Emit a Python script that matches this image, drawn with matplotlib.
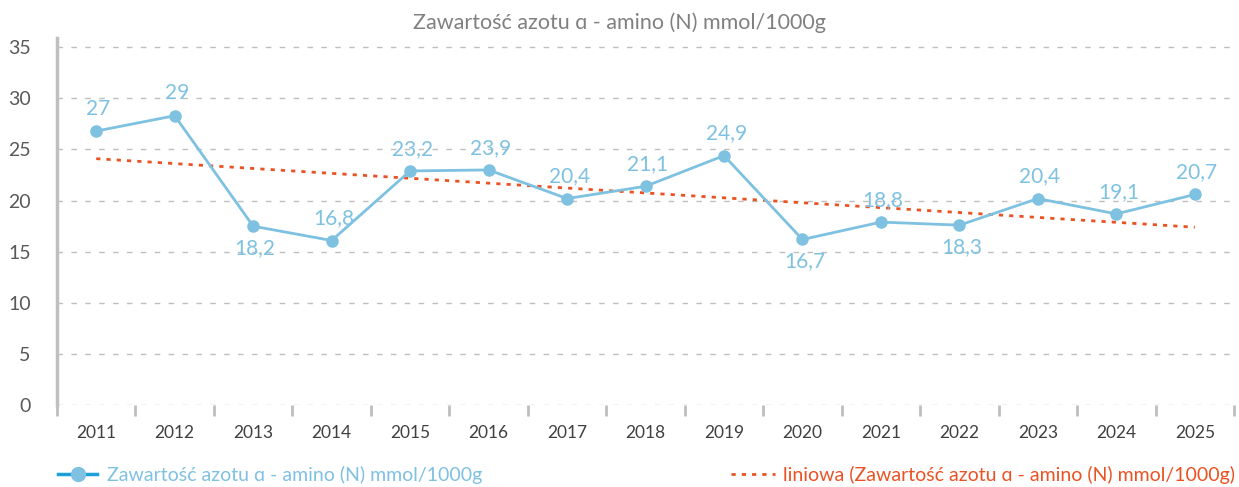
import numpy as np
import matplotlib.pyplot as plt
from matplotlib.lines import Line2D

plt.rcParams['font.family'] = ['Lato', 'DejaVu Sans']

years = ['2011', '2012', '2013', '2014', '2015', '2016', '2017', '2018',
         '2019', '2020', '2021', '2022', '2023', '2024', '2025']
# point heights as drawn in the reference
values = [26.8, 28.3, 17.5, 16.1, 22.9, 23.0, 20.2, 21.4,
          24.4, 16.2, 17.9, 17.6, 20.2, 18.7, 20.6]
# data labels as printed in the reference
labels = ['27', '29', '18,2', '16,8', '23,2', '23,9', '20,4', '21,1',
          '24,9', '16,7', '18,8', '18,3', '20,4', '19,1', '20,7']
below = ['2013', '2020', '2022']
# linear trend line, start and end values
trend_years = ['2011', '2025']
trend_values = [24.1, 17.4]

title = 'Zawartość azotu ɑ - amino (N) mmol/1000g'
series_name = 'Zawartość azotu ɑ - amino (N) mmol/1000g'
trend_name = 'liniowa (Zawartość azotu ɑ - amino (N) mmol/1000g)'

blue = '#7EC1E1'
orange = '#EB5223'
grid_c = '#BFBFBF'

fig = plt.figure(figsize=(12.39, 4.87), dpi=100)
ax = fig.add_axes([0.046, 0.168, 0.95, 0.754])

x = np.arange(len(years))
ax.plot(x, values, color=blue, lw=2, marker='o', ms=8, zorder=3)

tx = [years.index(y) for y in trend_years]
ax.plot(tx, trend_values, color=orange, lw=2, ls=(0, (1.5, 2.2)), zorder=2)

for xi, v, lab, yr in zip(x, values, labels, years):
    dy = -15.5 if yr in below else 16
    ax.annotate(lab, (xi, v), xytext=(1.5, dy), textcoords='offset points',
                ha='center', va='center', color=blue, fontsize=15)

ax.set_xlim(-0.5, len(years) - 0.5)
ax.set_ylim(0, 35.9)
ax.set_yticks(range(0, 36, 5))
ax.set_xticks(x)
ax.set_xticklabels(years)
ax.set_xticks(np.arange(-0.5, len(years), 1), minor=True)

ax.tick_params(axis='y', length=0, labelsize=14, labelcolor='#595959', pad=19)
ax.tick_params(axis='x', which='major', length=0, labelsize=12.5,
               labelcolor='#404040', pad=14)
ax.tick_params(axis='x', which='minor', length=8, width=2, color=grid_c)

ax.grid(axis='y', color=grid_c, ls=(0, (4, 6)), lw=1)
for s in ['top', 'right', 'bottom']:
    ax.spines[s].set_visible(False)
ax.spines['left'].set_color(grid_c)
ax.spines['left'].set_linewidth(2.5)
ax.set_axisbelow(True)

fig.text(0.5, 0.953, title, ha='center', va='center', fontsize=15.5, color='#808080')

h1 = Line2D([], [], color='#1BA0DA', lw=2.5, marker='o', ms=10,
            markerfacecolor=blue, markeredgecolor=blue)
h2 = Line2D([], [], color=orange, lw=2, ls=(0, (1.5, 2.2)))
leg1 = fig.legend([h1], [series_name], loc='center left',
                  bbox_to_anchor=(0.033, 0.025), frameon=False, fontsize=14,
                  handlelength=2.0, handletextpad=0.5)
leg1.get_texts()[0].set_color(blue)
leg2 = fig.legend([h2], [trend_name], loc='center right',
                  bbox_to_anchor=(1.011, 0.025), frameon=False, fontsize=14,
                  handlelength=2.3, handletextpad=0.4)
leg2.get_texts()[0].set_color(orange)

fig.savefig('out.png', dpi=100)
